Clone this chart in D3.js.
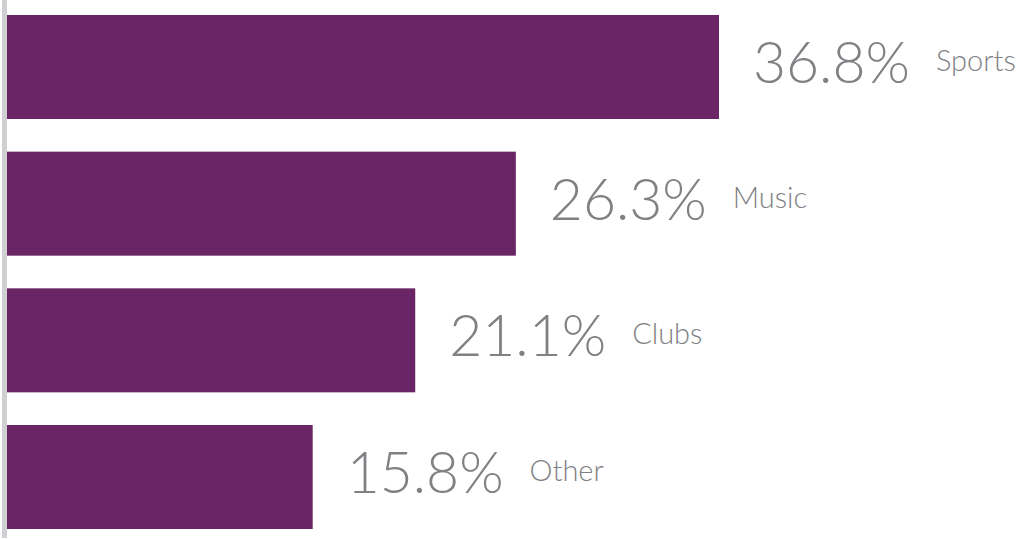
<!DOCTYPE html>
<html><head><meta charset="utf-8">
<script src="https://cdn.jsdelivr.net/npm/d3@7"></script>
<style>html,body{margin:0;padding:0;background:#fff;overflow:hidden}</style>
</head><body>
<svg id="c" width="1018" height="539"></svg>
<script>
const categories = ["Sports", "Music", "Clubs", "Other"];
const values = [36.8, 26.3, 21.1, 15.8];
const valueLabels = ["36.8%", "26.3%", "21.1%", "15.8%"];

const svg = d3.select("#c");
const x = d3.scaleLinear().domain([0, 36.8]).range([7, 719]);
const y = d3.scaleBand().domain(categories).range([15, 529]).paddingInner(0.239).paddingOuter(0);

svg.append("rect").attr("x", 2).attr("y", 0).attr("width", 5).attr("height", 538).attr("fill", "#cfd0d2");

const g = svg.selectAll("g.bar").data(categories).enter().append("g");
g.append("rect")
  .attr("x", x(0))
  .attr("y", d => y(d))
  .attr("width", (d, i) => x(values[i]) - x(0))
  .attr("height", y.bandwidth())
  .attr("fill", "#6a2567");

g.each(function(d, i) {
  const sel = d3.select(this);
  const cy = y(d) + y.bandwidth() / 2;
  const num = sel.append("text")
    .attr("x", x(values[i]) + 34)
    .attr("y", cy + 16)
    .attr("font-family", "Lato, sans-serif")
    .attr("font-weight", 300)
    .attr("font-size", 57)
    .attr("fill", "#808184")
    .text(valueLabels[i]);
  const w = num.node().getComputedTextLength();
  sel.append("text")
    .attr("x", x(values[i]) + 34 + w + 26)
    .attr("y", cy + 4)
    .attr("font-family", "Lato, sans-serif")
    .attr("font-weight", 300)
    .attr("font-size", 29)
    .attr("fill", "#808184")
    .text(d);
});
</script>
</body></html>
